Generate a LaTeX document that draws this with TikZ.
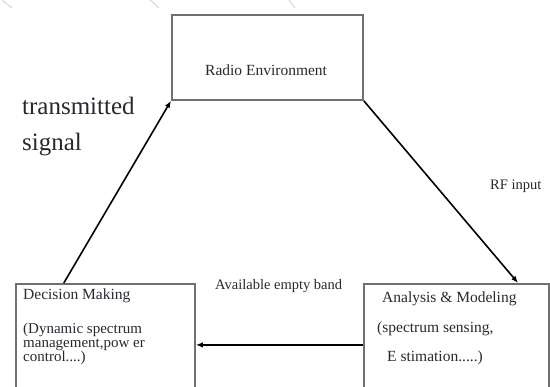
\documentclass[tikz,border=0pt]{standalone}
\usepackage{fontspec}
\setmainfont{Liberation Serif}
\usetikzlibrary{positioning, arrows.meta, calc}
\definecolor{grisbord}{RGB}{112,112,112}
\definecolor{grisfond}{RGB}{205,205,205}
\definecolor{encre}{RGB}{40,40,48}

\begin{document}
\begin{tikzpicture}[x=1pt, y=-1pt,
    bloc/.style={draw=grisbord, line width=1.8pt, rectangle, inner sep=0pt, anchor=north west},
    fleche/.style={-{Latex[length=7pt,width=5.5pt]}, line width=1.6pt, black},
    texte/.style={text=encre, font=\fontsize{15.5}{14.5}\selectfont, align=left, inner sep=0pt, anchor=base west},
    petit/.style={text=encre, font=\fontsize{14.5}{14}\selectfont, inner sep=0pt, anchor=base west}]
    \useasboundingbox (0,0) rectangle (550,387);
    \clip (0,0) rectangle (550,387);
    % faint strokes of the slide background
    \foreach \a/\b in {{(2,0)}/{(12,8)}, {(150,0)}/{(159,8)}, {(289,0)}/{(295,8)}}
      \draw[grisfond, line width=0.8pt] \a -- \b;
    % boxes
    \node[bloc, minimum width=191pt, minimum height=85pt] (re) at (171,14) {};
    \node[bloc, minimum width=179pt, minimum height=122pt] (dm) at (15,283) {};
    \node[bloc, minimum width=185pt, minimum height=122pt] (am) at (363,283) {};
    % box texts
    \node[texte] (retxt) at (205,76) {Radio Environment};
    \node[texte] (dmtitre) at (23,300) {Decision Making};
    \node[texte, font=\fontsize{15}{14}\selectfont, anchor=north west] (dmdetail) at (23,322.5)
      {(Dynamic spectrum\\management,pow er\\control....)};
    \node[texte] (amtitre) at (382,303) {Analysis \& Modeling};
    \node[texte] (amdetail) at (377,333) {(spectrum sensing,};
    \node[texte] (amsuite) at (387,362) {E stimation.....)};
    % connectors
    \draw[fleche] ($(dm.north west)!0.27!(dm.north east)$) -- (re.south west);
    \draw[fleche] (re.south east) -- ($(am.north west)!0.83!(am.north east)$);
    \draw[fleche] (am.west) -- (dm.east);
    % labels
    \node[text=encre, font=\fontsize{25}{36}\selectfont, align=left, inner sep=0pt, anchor=north west]
      (signal) at (22,97) {transmitted\\signal};
    \node[petit] (rfin) at (490,190) {RF input};
    \node[petit] (bande) at (215,290) {Available empty band};
\end{tikzpicture}
\end{document}
